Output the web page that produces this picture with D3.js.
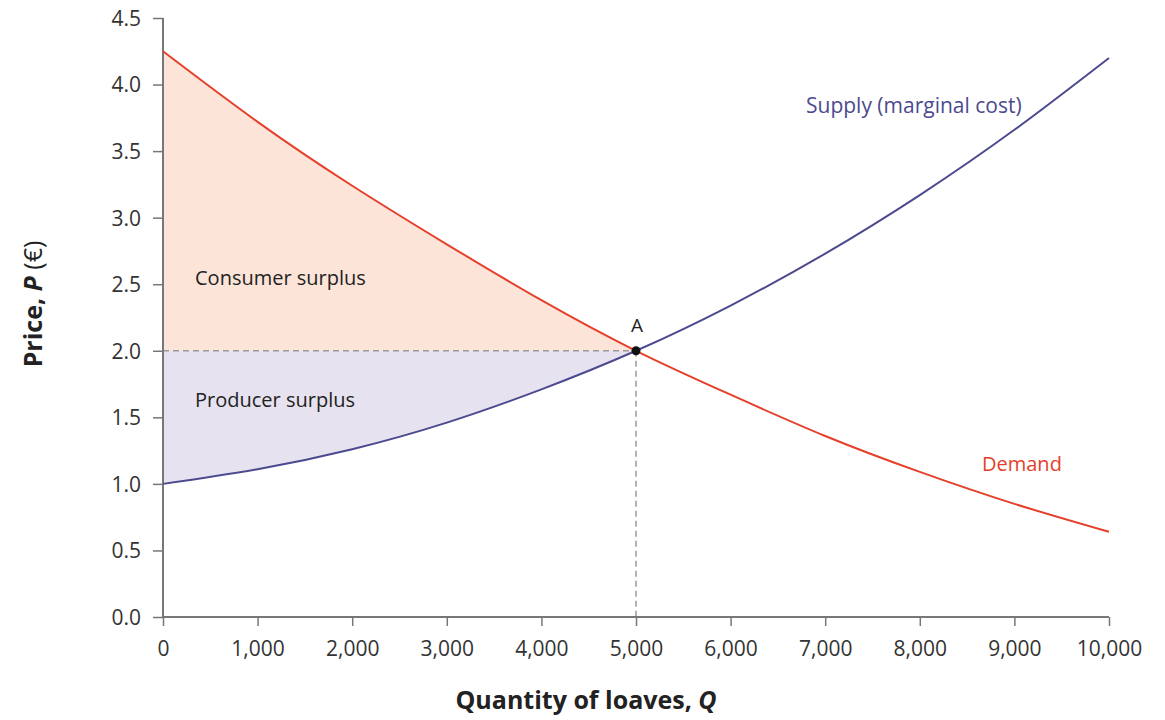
<!DOCTYPE html>
<html><head><meta charset="utf-8">
<script src="https://cdn.jsdelivr.net/npm/d3@7"></script>
<style>
body{margin:0;background:#fff;}
text{font-family:"Open Sans","Noto Sans",sans-serif;}
</style></head>
<body><svg id="c" width="1165" height="720"></svg>
<script>
const quantities = [0,1000,2000,3000,4000,5000,6000,7000,8000,9000,10000];
const demandPrices = [4.25,3.72,3.24,2.80,2.38,2.00,1.67,1.36,1.09,0.85,0.64];
const supplyPrices = [1.00,1.11,1.26,1.46,1.71,2.00,2.34,2.73,3.17,3.66,4.20];
const xTicks = [0,1000,2000,3000,4000,5000,6000,7000,8000,9000,10000];
const yTicks = [0,0.5,1.0,1.5,2.0,2.5,3.0,3.5,4.0,4.5];
const equilibrium = {q:5000, p:2.0, label:"A"};

const svg = d3.select("#c");
const x = d3.scaleLinear().domain([0,10000]).range([163,1109]);
const y = d3.scaleLinear().domain([0,4.5]).range([617,18]);

const demand = quantities.map((q,i)=>({q, p:demandPrices[i]}));
const supply = quantities.map((q,i)=>({q, p:supplyPrices[i]}));
const curve = d3.curveNatural;

// surplus areas
const left = d => d.q <= equilibrium.q;
svg.append("path").datum(demand.filter(left))
  .attr("d", d3.area().x(d=>x(d.q)).y0(y(equilibrium.p)).y1(d=>y(d.p)).curve(curve))
  .attr("fill","#fde4d8");
svg.append("path").datum(supply.filter(left))
  .attr("d", d3.area().x(d=>x(d.q)).y0(y(equilibrium.p)).y1(d=>y(d.p)).curve(curve))
  .attr("fill","#e7e2ef");

// dashed guides
svg.append("line").attr("x1",x(0)).attr("x2",x(equilibrium.q))
  .attr("y1",y(equilibrium.p)).attr("y2",y(equilibrium.p))
  .attr("stroke","#9a9a9a").attr("stroke-width",1.5).attr("stroke-dasharray","6,4");
svg.append("line").attr("x1",x(equilibrium.q)).attr("x2",x(equilibrium.q))
  .attr("y1",y(equilibrium.p)).attr("y2",y(0))
  .attr("stroke","#9a9a9a").attr("stroke-width",1.5).attr("stroke-dasharray","6,4");

// axes
const xAxis = svg.append("g").attr("transform",`translate(0,${y(0)})`)
  .call(d3.axisBottom(x).tickValues(xTicks).tickSize(9).tickPadding(15)
    .tickFormat(d=>d3.format(",")(d)));
const yAxis = svg.append("g").attr("transform",`translate(${x(0)},0)`)
  .call(d3.axisLeft(y).tickValues(yTicks).tickSize(10).tickPadding(12)
    .tickFormat(d3.format(".1f")));
[xAxis,yAxis].forEach(g=>{
  g.select(".domain").attr("stroke","#777").attr("stroke-width",2);
  g.selectAll(".tick line").attr("stroke","#777").attr("stroke-width",1.5);
  g.selectAll(".tick text").attr("fill","#333").style("font-size","21px")
   .style("font-family","'Open Sans',sans-serif");
});
xAxis.select(".domain").attr("d",`M${x(0)},0H${x(10000)}`);
yAxis.select(".domain").attr("d",`M0,${y(0)}V${y(4.5)}`);
yAxis.selectAll(".tick text").attr("dy","0.35em");

// curves
const line = d3.line().x(d=>x(d.q)).y(d=>y(d.p)).curve(curve);
svg.append("path").datum(demand).attr("d",line)
  .attr("fill","none").attr("stroke","#e5402b").attr("stroke-width",2);
svg.append("path").datum(supply).attr("d",line)
  .attr("fill","none").attr("stroke","#4c4a8f").attr("stroke-width",2);

// point A
svg.append("circle").attr("cx",x(equilibrium.q)).attr("cy",y(equilibrium.p))
  .attr("r",4.5).attr("fill","#111");
svg.append("text").attr("x",x(equilibrium.q)+1).attr("y",y(equilibrium.p)-19)
  .attr("text-anchor","middle").style("font-size","19px").attr("fill","#222").text(equilibrium.label);

// labels
svg.append("text").attr("x",806).attr("y",113).style("font-size","21px")
  .attr("fill","#4c4a8f").text("Supply (marginal cost)");
svg.append("text").attr("x",982).attr("y",471).style("font-size","20px")
  .attr("fill","#e5402b").text("Demand");
svg.append("text").attr("x",195).attr("y",285).style("font-size","20px")
  .attr("fill","#222").text("Consumer surplus");
svg.append("text").attr("x",195).attr("y",407).style("font-size","20px")
  .attr("fill","#222").text("Producer surplus");

// axis titles
const xt = svg.append("text").attr("x",586).attr("y",709).attr("text-anchor","middle")
  .style("font-size","25px").style("font-weight","700").attr("fill","#222");
xt.append("tspan").text("Quantity of loaves, ");
xt.append("tspan").style("font-style","italic").text("Q");
const yt = svg.append("text").attr("transform","translate(42,304) rotate(-90)")
  .attr("text-anchor","middle").style("font-size","25px").attr("fill","#222");
yt.append("tspan").style("font-weight","700").text("Price, ");
yt.append("tspan").style("font-weight","700").style("font-style","italic").text("P");
yt.append("tspan").style("font-weight","400").text(" (€)");
</script></body></html>
